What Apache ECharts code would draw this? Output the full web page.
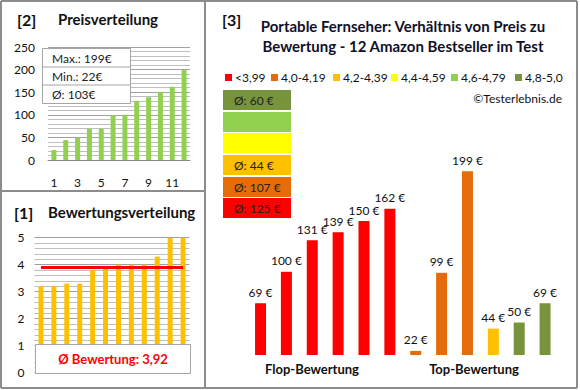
<!DOCTYPE html>
<html>
<head>
<meta charset="utf-8">
<script src="https://cdn.jsdelivr.net/npm/echarts@6/dist/echarts.min.js"></script>
<style>
html,body{margin:0;padding:0;background:#fff;}
#c{width:580px;height:390px;}
</style>
</head>
<body>
<div id="c"></div>
<script>
// ---- data ----
var priceCats = ['1','2','3','4','5','6','7','8','9','10','11','12'];
var prices = [22, 44, 50, 69, 69, 99, 100, 131, 139, 150, 162, 199];
var ratings = [3.2, 3.2, 3.3, 3.3, 3.8, 3.9, 4.0, 4.0, 4.0, 4.3, 5.0, 5.0];
var avgRating = 3.92;
var priceTicks = [0, 50, 100, 150, 200, 250];
var ratingTicks = [0, 1, 2, 3, 4, 5];

var flopPrices = [69, 100, 131, 139, 150, 162];
var topPrices = [22, 99, 199, 44, 50, 69];
var flopClass = [0, 0, 0, 0, 0, 0];
var topClass = [1, 1, 1, 2, 5, 5];
var classLabels = ['<3,99', '4,0-4,19', '4,2-4,39', '4,4-4,59', '4,6-4,79', '4,8-5,0'];
var classAvg = [125, 107, 44, null, null, 60];
var groupLabels = ['Flop-Bewertung', 'Top-Bewertung'];
var titleLines = ['Portable Fernseher: Verhältnis von Preis zu', 'Bewertung - 12 Amazon Bestseller im Test'];

// ---- styles ----
var classColors = ['#FF0000', '#E46C0A', '#FFC000', '#FFFF00', '#92D050', '#77933C'];
var FONT = 'Lato';
var frameColor = '#8C8C8C';

var chart = echarts.init(document.getElementById('c'), null, {renderer: 'svg'});

var maxP = Math.max.apply(null, prices), minP = Math.min.apply(null, prices);
var avgP = Math.round(prices.reduce(function(a, b){return a + b;}, 0) / prices.length);

function txt(text, x, y, size, weight, color, align) {
  return {type: 'text', z: 100, style: {
    text: text, x: x, y: y, fontSize: size, fontWeight: weight || 'normal', fontFamily: FONT,
    fill: color || '#000', align: align || 'left', textAlign: align || 'left',
    verticalAlign: 'middle', textVerticalAlign: 'middle'}};
}
function line(x1, y1, x2, y2, c, w) {
  return {type: 'line', z: 100, shape: {x1: x1, y1: y1, x2: x2, y2: y2}, style: {stroke: c || frameColor, lineWidth: w || 2}};
}
function rect(x, y, w, h, fill, stroke) {
  return {type: 'rect', z: 99, shape: {x: x, y: y, width: w, height: h}, style: {fill: fill, stroke: stroke || null, lineWidth: 1}};
}

var g = [];
// frame
g.push(line(1, 1, 577, 1));
g.push(line(1, 388, 577, 388));
g.push(line(1, 1, 1, 388));
g.push(line(577, 1, 577, 388));
g.push(line(205, 1, 205, 388));
g.push(line(1, 191, 205, 191));
// panel titles
g.push(txt('[2]', 17, 19, 16, 'bold', '#111'));
g.push(txt('Preisverteilung', 58, 19, 15, 'bold', '#111'));
g.push(txt('[1]', 14, 212, 16, 'bold', '#111'));
g.push(txt('Bewertungsverteilung', 48, 212, 15, 'bold', '#111'));
g.push(txt('[3]', 222, 19, 16, 'bold', '#111'));
g.push(txt(titleLines[0], 403, 26, 15, 'bold', '#101028', 'center'));
g.push(txt(titleLines[1], 403, 46, 15, 'bold', '#101028', 'center'));
// price info box
g.push(rect(42.5, 48.5, 88, 55, '#fff', '#A6A6A6'));
g.push(line(42.5, 67, 130.5, 67, '#A6A6A6', 1));
g.push(line(42.5, 85, 130.5, 85, '#A6A6A6', 1));
g.push(txt('Max.: ' + maxP + '€', 52, 58, 12, 'normal', '#222'));
g.push(txt('Min.: ' + minP + '€', 52, 76, 12, 'normal', '#222'));
g.push(txt('Ø: ' + avgP + '€', 52, 94, 12, 'normal', '#222'));
// rating box
g.push(rect(35.5, 344.5, 155, 29, '#fff', '#A6A6A6'));
g.push(txt('Ø Bewertung: ' + avgRating.toFixed(2).replace('.', ','), 113, 359, 13, 'bold', '#FF0000', 'center'));
// legend
var legX = [225, 271, 333, 391, 451, 515];
for (var i = 0; i < classLabels.length; i++) {
  g.push(rect(legX[i], 74, 7, 7, classColors[i]));
  g.push(txt(classLabels[i], legX[i] + 10, 77.5, 12, 'normal', '#111'));
}
g.push(txt('©Testerlebnis.de', 562, 98, 12, 'normal', '#111', 'right'));
// avg boxes (top = class 5, bottom = class 0)
var boxY = [198, 177, 155, 133, 112, 90];
for (var k = 0; k < 6; k++) {
  g.push(rect(223, boxY[k], 68, 20, classColors[k]));
  if (classAvg[k] !== null) g.push(txt('Ø: ' + classAvg[k] + ' €', 234, boxY[k] + 10.5, 12, 'normal', '#222'));
}
// group labels
g.push(txt(groupLabels[0], 312, 369, 13, 'bold', '#111', 'center'));
g.push(txt(groupLabels[1], 474, 369, 13, 'bold', '#111', 'center'));

var barData = flopPrices.map(function(v, i){ return {value: v, itemStyle: {color: classColors[flopClass[i]]}}; })
  .concat(topPrices.map(function(v, i){ return {value: v, itemStyle: {color: classColors[topClass[i]]}}; }));
var barCats = barData.map(function(d, i){ return 'P' + (i + 1); });

var option = {
  animation: false,
  textStyle: {fontFamily: FONT},
  grid: [
    {left: 48, top: 47, width: 142, height: 113},
    {left: 34.5, top: 237.7, width: 155, height: 135},
    {left: 247.6, top: 150, width: 310.4, height: 205}
  ],
  xAxis: [
    {gridIndex: 0, type: 'category', data: priceCats,
     axisLine: {show: true, lineStyle: {color: '#888'}}, axisTick: {show: false},
     axisLabel: {interval: 1, margin: 16, fontSize: 12, color: '#111'}},
    {gridIndex: 1, type: 'category', data: priceCats,
     axisLine: {show: false}, axisTick: {show: false}, axisLabel: {show: false}},
    {gridIndex: 2, type: 'category', data: barCats,
     axisLine: {show: false}, axisTick: {show: false}, axisLabel: {show: false}}
  ],
  yAxis: [
    {gridIndex: 0, type: 'value', min: priceTicks[0], max: priceTicks[priceTicks.length - 1], interval: 50,
     axisLine: {show: false}, axisTick: {show: false},
     axisLabel: {margin: 13, fontSize: 12, color: '#111'},
     splitLine: {lineStyle: {color: '#A0A0A0'}},
     minorTick: {show: false, splitNumber: 5},
     minorSplitLine: {show: true, lineStyle: {color: '#BFBFBF'}}},
    {gridIndex: 1, type: 'value', min: ratingTicks[0], max: ratingTicks[ratingTicks.length - 1], interval: 1,
     axisLine: {show: false}, axisTick: {show: false},
     axisLabel: {margin: 10, fontSize: 12, color: '#111'},
     splitLine: {lineStyle: {color: '#A0A0A0'}},
     minorTick: {show: false, splitNumber: 5},
     minorSplitLine: {show: true, lineStyle: {color: '#BFBFBF'}}},
    {gridIndex: 2, type: 'value', min: 18, max: 220, show: false, splitLine: {show: false}}
  ],
  series: [
    {type: 'bar', xAxisIndex: 0, yAxisIndex: 0, data: prices, barWidth: 5,
     itemStyle: {color: '#92D050'}},
    {type: 'bar', xAxisIndex: 1, yAxisIndex: 1, data: ratings, barWidth: 5,
     itemStyle: {color: '#FFC000'},
     markLine: {silent: true, symbol: 'none', label: {show: false},
       lineStyle: {color: '#FF0000', width: 3, type: 'solid'},
       data: [[{coord: [priceCats[0], avgRating]}, {coord: [priceCats[priceCats.length - 1], avgRating]}]]}},
    {type: 'bar', xAxisIndex: 2, yAxisIndex: 2, data: barData, barWidth: 11,
     label: {show: true, position: 'top', formatter: '{c} €', fontSize: 12, color: '#111', distance: 5}}
  ],
  graphic: {elements: g}
};
chart.setOption(option);
</script>
</body>
</html>
